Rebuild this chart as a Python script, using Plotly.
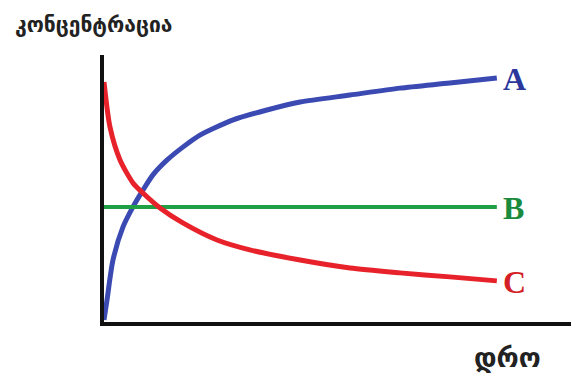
import plotly.graph_objects as go

# x runs 0..100 across the whole time axis, y runs 0..100 up the concentration axis
time_a = [0, 0.63, 1.89, 4.0, 6.1, 8.2, 10.3, 13.3, 16.6, 20.2, 27.2, 34.3, 41.3, 51.8, 62.3, 72.8, 82.7]
conc_a = [0.75, 8.2, 23.2, 35.6, 43.1, 49.4, 55.1, 60.7, 65.5, 70.0, 75.7, 79.4, 82.4, 85.0, 87.6, 89.5, 91.4]

time_b = [0, 82.7]
conc_b = [43.1, 43.1]

time_c = [0, 1.26, 3.37, 6.1, 8.2, 11.8, 16.6, 23.8, 30.7, 41.3, 51.8, 62.3, 72.8, 82.7]
conc_c = [89.9, 73.0, 60.7, 52.1, 48.3, 42.7, 37.1, 30.7, 27.0, 23.2, 20.2, 18.4, 16.9, 15.4]

series = [
    ("A", time_a, conc_a, "#3b4ab2", "#2c379c", 5),
    ("B", time_b, conc_b, "#1fa044", "#1a8a3c", 4),
    ("C", time_c, conc_c, "#e8222a", "#d41f27", 5),
]

fig = go.Figure()

for name, xs, ys, line_col, text_col, w in series:
    fig.add_trace(go.Scatter(
        x=xs, y=ys, mode="lines", name=name,
        line=dict(color=line_col, width=w, shape="spline", smoothing=0.7),
        showlegend=False, hoverinfo="skip",
    ))
    fig.add_annotation(
        x=xs[-1], y=ys[-1], xref="x", yref="y",
        text=f"<b>{name}</b>", showarrow=False,
        xanchor="left", xshift=4, yshift=-1,
        font=dict(family="Liberation Serif", size=32, color=text_col),
    )

# axis titles in paper coords (plot area is 475 x 267 px)
fig.add_annotation(
    x=(13 - 104) / 475, y=(322 - 25) / 267, xref="paper", yref="paper",
    text="<b>კონცენტრაცია</b>", showarrow=False, xanchor="left", yanchor="middle",
    font=dict(family="DejaVu Sans", size=21, color="#222"),
)
fig.add_annotation(
    x=(507 - 104) / 475, y=(322 - 358) / 267, xref="paper", yref="paper",
    text="<b>დრო</b>", showarrow=False, xanchor="center", yanchor="middle",
    font=dict(family="DejaVu Sans", size=27, color="#222"),
)

fig.update_xaxes(range=[0, 100], showline=True, linecolor="#111", linewidth=4,
                 showgrid=False, zeroline=False, showticklabels=False, ticks="")
fig.update_yaxes(range=[0, 100], showline=True, linecolor="#111", linewidth=4,
                 showgrid=False, zeroline=False, showticklabels=False, ticks="")

# page body adds an 8px offset, so the figure is 8px smaller than the window
fig.update_layout(
    width=571, height=366,
    margin=dict(l=96, r=0, t=47, b=52),
    plot_bgcolor="white", paper_bgcolor="white",
)

fig.write_html("out.html")
